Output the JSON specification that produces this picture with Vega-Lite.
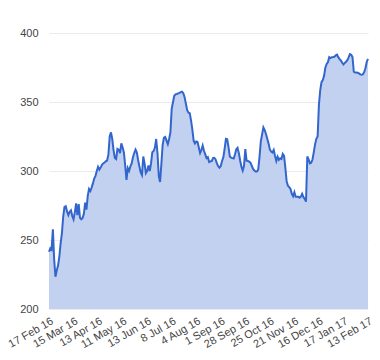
{
"$schema":"https://vega.github.io/schema/vega-lite/v6.json",
"width":319,"height":276,
"autosize":{"type":"none"},
"padding":{"left":49,"top":33,"right":12,"bottom":51},
"background":"white",
"config":{"view":{"stroke":null},"font":"Liberation Sans"},
"data":{"values":[
{"d":"17 Feb 16","v":241.5},{"d":"18 Feb 16","v":244},{"d":"19 Feb 16","v":243},{"d":"22 Feb 16","v":257.8},{"d":"23 Feb 16","v":236},{"d":"24 Feb 16","v":223.4},{"d":"25 Feb 16","v":228},{"d":"26 Feb 16","v":231.5},{"d":"29 Feb 16","v":238},{"d":"1 Mar 16","v":247.5},{"d":"2 Mar 16","v":255},{"d":"3 Mar 16","v":267},{"d":"4 Mar 16","v":274},{"d":"7 Mar 16","v":274.5},{"d":"8 Mar 16","v":270.5},{"d":"9 Mar 16","v":268},{"d":"10 Mar 16","v":270.5},{"d":"11 Mar 16","v":271.5},{"d":"14 Mar 16","v":267.5},
{"d":"15 Mar 16","v":265},{"d":"16 Mar 16","v":270},{"d":"17 Mar 16","v":276.5},{"d":"18 Mar 16","v":268},{"d":"21 Mar 16","v":276},{"d":"22 Mar 16","v":266},{"d":"23 Mar 16","v":265},{"d":"24 Mar 16","v":266},{"d":"29 Mar 16","v":269},{"d":"30 Mar 16","v":277},{"d":"31 Mar 16","v":272},{"d":"1 Apr 16","v":282},{"d":"4 Apr 16","v":287},{"d":"5 Apr 16","v":285.5},{"d":"6 Apr 16","v":288},{"d":"7 Apr 16","v":291},{"d":"8 Apr 16","v":294.5},{"d":"11 Apr 16","v":296.5},{"d":"12 Apr 16","v":300},
{"d":"13 Apr 16","v":303},{"d":"14 Apr 16","v":301},{"d":"15 Apr 16","v":302.5},{"d":"18 Apr 16","v":304.5},{"d":"19 Apr 16","v":305.5},{"d":"20 Apr 16","v":306.2},{"d":"21 Apr 16","v":307},{"d":"22 Apr 16","v":307.7},{"d":"25 Apr 16","v":312},{"d":"26 Apr 16","v":325},{"d":"27 Apr 16","v":328},{"d":"28 Apr 16","v":323},{"d":"29 Apr 16","v":315},{"d":"3 May 16","v":309.5},{"d":"4 May 16","v":308.7},{"d":"5 May 16","v":316},{"d":"6 May 16","v":315.5},{"d":"9 May 16","v":313},{"d":"10 May 16","v":320},
{"d":"11 May 16","v":317},{"d":"12 May 16","v":313.5},{"d":"16 May 16","v":304},{"d":"17 May 16","v":293.5},{"d":"18 May 16","v":302},{"d":"19 May 16","v":300},{"d":"20 May 16","v":303.3},{"d":"23 May 16","v":305.5},{"d":"25 May 16","v":310},{"d":"26 May 16","v":313},{"d":"27 May 16","v":315.5},{"d":"31 May 16","v":313.5},{"d":"1 Jun 16","v":308},{"d":"2 Jun 16","v":303.2},{"d":"6 Jun 16","v":299},{"d":"7 Jun 16","v":297},{"d":"8 Jun 16","v":310.5},{"d":"9 Jun 16","v":305.5},{"d":"10 Jun 16","v":298.5},
{"d":"13 Jun 16","v":300},{"d":"14 Jun 16","v":304},{"d":"15 Jun 16","v":300},{"d":"16 Jun 16","v":305.5},{"d":"17 Jun 16","v":313.6},{"d":"20 Jun 16","v":314.5},{"d":"21 Jun 16","v":317},{"d":"22 Jun 16","v":323.2},{"d":"23 Jun 16","v":313},{"d":"24 Jun 16","v":296.5},{"d":"27 Jun 16","v":292},{"d":"28 Jun 16","v":305},{"d":"29 Jun 16","v":319},{"d":"30 Jun 16","v":324.2},{"d":"1 Jul 16","v":324.7},{"d":"4 Jul 16","v":322},{"d":"5 Jul 16","v":319.5},{"d":"6 Jul 16","v":323.2},{"d":"7 Jul 16","v":328},
{"d":"8 Jul 16","v":345},{"d":"11 Jul 16","v":349.8},{"d":"12 Jul 16","v":354.5},{"d":"13 Jul 16","v":355.5},{"d":"14 Jul 16","v":355.8},{"d":"15 Jul 16","v":356.2},{"d":"18 Jul 16","v":356.6},{"d":"19 Jul 16","v":357.1},{"d":"20 Jul 16","v":357.5},{"d":"21 Jul 16","v":356.3},{"d":"22 Jul 16","v":353.5},{"d":"25 Jul 16","v":348.7},{"d":"26 Jul 16","v":344},{"d":"27 Jul 16","v":342.2},{"d":"28 Jul 16","v":341.9},{"d":"29 Jul 16","v":336.5},{"d":"1 Aug 16","v":330},{"d":"2 Aug 16","v":322},{"d":"3 Aug 16","v":320},
{"d":"4 Aug 16","v":321.4},{"d":"5 Aug 16","v":321},{"d":"8 Aug 16","v":317},{"d":"9 Aug 16","v":313},{"d":"10 Aug 16","v":315.2},{"d":"11 Aug 16","v":318.4},{"d":"12 Aug 16","v":314.7},{"d":"15 Aug 16","v":312},{"d":"16 Aug 16","v":309.3},{"d":"17 Aug 16","v":310},{"d":"18 Aug 16","v":306.5},{"d":"19 Aug 16","v":307},{"d":"22 Aug 16","v":307.2},{"d":"23 Aug 16","v":309.3},{"d":"24 Aug 16","v":309.5},{"d":"25 Aug 16","v":308.4},{"d":"26 Aug 16","v":305.5},{"d":"30 Aug 16","v":303.5},{"d":"31 Aug 16","v":302.4},
{"d":"1 Sep 16","v":303.6},{"d":"2 Sep 16","v":307.3},{"d":"5 Sep 16","v":310},{"d":"6 Sep 16","v":316.2},{"d":"7 Sep 16","v":323.3},{"d":"8 Sep 16","v":323},{"d":"9 Sep 16","v":317.3},{"d":"12 Sep 16","v":310.5},{"d":"13 Sep 16","v":309.7},{"d":"14 Sep 16","v":309.3},{"d":"15 Sep 16","v":309},{"d":"16 Sep 16","v":312},{"d":"19 Sep 16","v":315.7},{"d":"20 Sep 16","v":316.8},{"d":"21 Sep 16","v":312.9},{"d":"22 Sep 16","v":307.6},{"d":"23 Sep 16","v":303},{"d":"26 Sep 16","v":300.3},{"d":"27 Sep 16","v":303.8},
{"d":"28 Sep 16","v":315.8},{"d":"29 Sep 16","v":307.5},{"d":"30 Sep 16","v":307.3},{"d":"3 Oct 16","v":306.8},{"d":"4 Oct 16","v":306},{"d":"5 Oct 16","v":303.8},{"d":"6 Oct 16","v":301.5},{"d":"7 Oct 16","v":300.4},{"d":"10 Oct 16","v":299.6},{"d":"11 Oct 16","v":299.6},{"d":"12 Oct 16","v":301},{"d":"13 Oct 16","v":310.3},{"d":"14 Oct 16","v":321.4},{"d":"17 Oct 16","v":326.5},{"d":"18 Oct 16","v":331.6},{"d":"19 Oct 16","v":329.6},{"d":"20 Oct 16","v":326.8},{"d":"21 Oct 16","v":323.4},{"d":"24 Oct 16","v":320},
{"d":"25 Oct 16","v":315.6},{"d":"26 Oct 16","v":314.1},{"d":"27 Oct 16","v":313.4},{"d":"28 Oct 16","v":315.3},{"d":"31 Oct 16","v":311},{"d":"1 Nov 16","v":307.3},{"d":"2 Nov 16","v":310.4},{"d":"3 Nov 16","v":308.1},{"d":"4 Nov 16","v":309.2},{"d":"7 Nov 16","v":308.7},{"d":"8 Nov 16","v":312.3},{"d":"9 Nov 16","v":310.9},{"d":"10 Nov 16","v":302.5},{"d":"11 Nov 16","v":292.6},{"d":"14 Nov 16","v":289.3},{"d":"15 Nov 16","v":288.3},{"d":"16 Nov 16","v":287},{"d":"17 Nov 16","v":283.5},{"d":"18 Nov 16","v":281.7},
{"d":"21 Nov 16","v":284.6},{"d":"22 Nov 16","v":281.4},{"d":"23 Nov 16","v":281.4},{"d":"24 Nov 16","v":281.4},{"d":"25 Nov 16","v":280.7},{"d":"28 Nov 16","v":281.4},{"d":"29 Nov 16","v":283.5},{"d":"30 Nov 16","v":281},{"d":"1 Dec 16","v":279.8},{"d":"2 Dec 16","v":277.8},{"d":"5 Dec 16","v":310.5},{"d":"6 Dec 16","v":308.5},{"d":"7 Dec 16","v":305.5},{"d":"8 Dec 16","v":306},{"d":"9 Dec 16","v":308.3},{"d":"12 Dec 16","v":313.5},{"d":"13 Dec 16","v":319.3},{"d":"14 Dec 16","v":323.3},{"d":"15 Dec 16","v":325},
{"d":"16 Dec 16","v":348},{"d":"19 Dec 16","v":358.5},{"d":"20 Dec 16","v":364.4},{"d":"21 Dec 16","v":365.9},{"d":"22 Dec 16","v":369},{"d":"23 Dec 16","v":375},{"d":"28 Dec 16","v":377.6},{"d":"29 Dec 16","v":379},{"d":"30 Dec 16","v":382.5},{"d":"3 Jan 17","v":381.9},{"d":"4 Jan 17","v":382.5},{"d":"5 Jan 17","v":382.6},{"d":"6 Jan 17","v":382.8},{"d":"9 Jan 17","v":383.8},{"d":"10 Jan 17","v":384.3},{"d":"11 Jan 17","v":382.5},{"d":"12 Jan 17","v":381},{"d":"13 Jan 17","v":380.1},{"d":"16 Jan 17","v":378.4},
{"d":"17 Jan 17","v":377.2},{"d":"18 Jan 17","v":378.3},{"d":"19 Jan 17","v":379.2},{"d":"20 Jan 17","v":380.3},{"d":"23 Jan 17","v":382.3},{"d":"24 Jan 17","v":384.7},{"d":"25 Jan 17","v":384.3},{"d":"26 Jan 17","v":382.5},{"d":"27 Jan 17","v":372},{"d":"30 Jan 17","v":371.4},{"d":"31 Jan 17","v":371.4},{"d":"1 Feb 17","v":371.2},{"d":"2 Feb 17","v":370.7},{"d":"3 Feb 17","v":370},{"d":"6 Feb 17","v":369.7},{"d":"7 Feb 17","v":370},{"d":"8 Feb 17","v":371.6},{"d":"9 Feb 17","v":374.5},{"d":"10 Feb 17","v":379},
{"d":"13 Feb 17","v":381.3}
]},
"encoding":{
"x":{"field":"d","type":"ordinal","sort":null,"scale":{"type":"point","padding":0},
"axis":{"title":null,"values":["17 Feb 16","15 Mar 16","13 Apr 16","11 May 16","13 Jun 16","8 Jul 16","4 Aug 16","1 Sep 16","28 Sep 16","25 Oct 16","21 Nov 16","16 Dec 16","17 Jan 17","13 Feb 17"],
"labelAngle":-30,"labelAlign":"right","labelBaseline":"top","labelPadding":6,"ticks":false,"domain":false,"grid":false,"labelFontSize":11,"labelColor":"#444444","labelFont":"Liberation Sans","labelOverlap":false}},
"y":{"field":"v","type":"quantitative","scale":{"domain":[200,400],"nice":false,"zero":false},
"axis":{"title":null,"values":[200,250,300,350,400],"ticks":false,"domain":false,"gridColor":"#ebebeb","gridWidth":1,"labelPadding":11,"labelFontSize":11,"labelColor":"#444444","labelFont":"Liberation Sans"}}
},
"layer":[
{"mark":{"type":"area","color":"#c2d1f0","opacity":1},"encoding":{"y2":{"datum":200}}},
{"mark":{"type":"line","color":"#3366cc","strokeWidth":2}}
]
}
